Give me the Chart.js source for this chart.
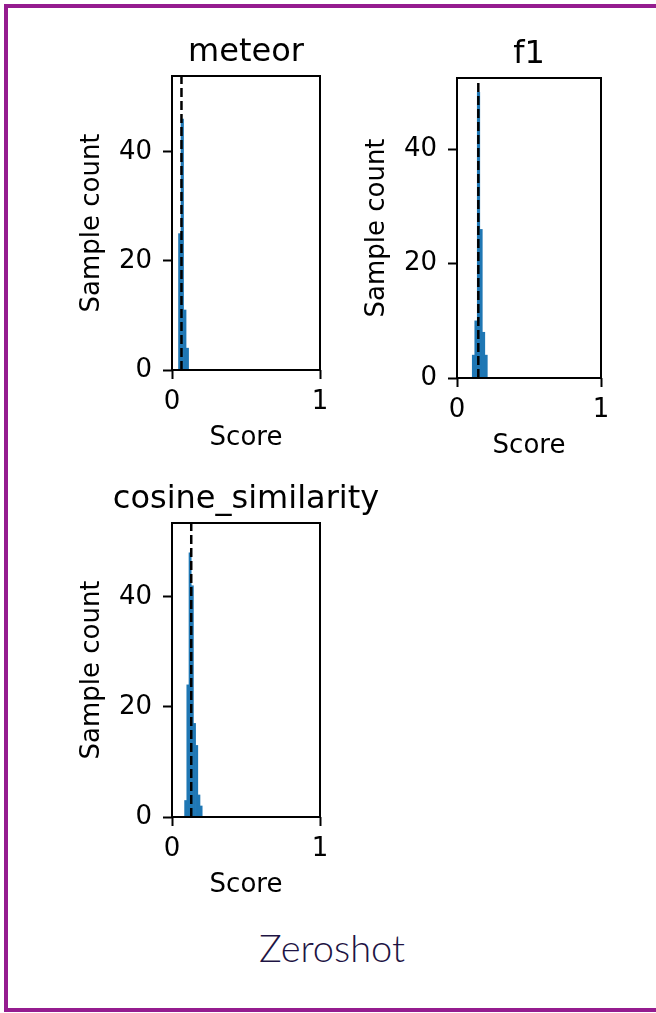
<!DOCTYPE html>
<html>
<head>
<meta charset="utf-8">
<script src="https://cdn.jsdelivr.net/npm/chart.js@4.4.0/dist/chart.umd.min.js"></script>
<style>
  html, body { margin: 0; padding: 0; background: #fff; }
  body { width: 656px; height: 1013px; position: relative; overflow: hidden; }
  #frame {
    position: absolute; left: 4px; top: 4px; width: 720px; height: 1008px;
    box-sizing: border-box; border: 4px solid #951c8f;
  }
  canvas { position: absolute; }
  #caption {
    position: absolute; left: 0; width: 664px; top: 928px;
    text-align: center; font-family: Lato, 'Open Sans', sans-serif;
    font-size: 38px; font-weight: 300; line-height: 1; color: #1e1444;
  }
</style>
</head>
<body>
<div id="frame"></div>
<canvas id="meteorChart"></canvas>
<canvas id="f1Chart"></canvas>
<canvas id="cosineChart"></canvas>
<div id="caption">Zeroshot</div>
<script>
// Histogram data (bin centres on score axis, sample counts)
const meteorBins = [0.0525, 0.0695, 0.0865, 0.1035];
const meteorCounts = [25, 46, 11, 4];
const meteorMean = 0.064;
const meteorYMax = 53.9;

const f1Bins = [0.1147, 0.1321, 0.1495, 0.1669, 0.1843, 0.2017];
const f1Counts = [4, 10, 50, 26, 8, 4];
const f1Mean = 0.148;
const f1YMax = 52.5;

const cosineBins = [0.0926, 0.1074, 0.1223, 0.1372, 0.1520, 0.1669, 0.1817, 0.1966];
const cosineCounts = [3, 24, 48, 42, 17, 13, 4, 2];
const cosineMean = 0.130;
const cosineYMax = 53.4;

// Axis ticks
const xTicks = [0, 1];
const yTicks = [0, 20, 40];

const FONT = "'DejaVu Sans', sans-serif";

// Draws the full box around the plot area (matplotlib spines)
const framePlugin = {
    id: 'frame',
    afterDatasetsDraw(chart) {
        const { ctx, chartArea: a } = chart;
        ctx.save();
        ctx.strokeStyle = '#000';
        ctx.lineWidth = 2;
        ctx.strokeRect(a.left, a.top, a.right - a.left, a.bottom - a.top);
        ctx.restore();
    }
};

// Build one subplot; box = target plot area in page pixels
function makePanel(id, title, bins, counts, mean, yMax, box) {
    const canvas = document.getElementById(id);
    const yAxisWidth = 96;
    const xAxisHeight = 84;
    const titleSpace = 43;
    const titleLine = 32 * 1.2;
    // empty right axis of the same width keeps the full-width title centred on the plot
    const left = box.l - yAxisWidth;
    const top = box.t - titleSpace;
    const width = box.r + yAxisWidth - left;
    const height = box.b + xAxisHeight - top;
    canvas.width = width;
    canvas.height = height;
    canvas.style.left = left + 'px';
    canvas.style.top = top + 'px';
    canvas.style.width = width + 'px';
    canvas.style.height = height + 'px';

    const barData = bins.map((b, i) => ({ x: b, y: counts[i] }));

    return new Chart(canvas, {
        type: 'bar',
        data: {
            datasets: [
                {
                    type: 'line',
                    data: [{ x: mean, y: 0 }, { x: mean, y: yMax }],
                    borderColor: '#000',
                    borderWidth: 2.5,
                    borderDash: [9, 4],
                    pointRadius: 0,
                    fill: false,
                    order: 0
                },
                {
                    type: 'bar',
                    data: barData,
                    backgroundColor: '#1f77b4',
                    borderWidth: 0,
                    barPercentage: 1,
                    categoryPercentage: 1,
                    order: 1
                }
            ]
        },
        options: {
            responsive: false,
            animation: false,
            devicePixelRatio: 1,
            layout: { padding: 0 },
            plugins: {
                legend: { display: false },
                tooltip: { enabled: false },
                title: {
                    display: true,
                    text: title,
                    color: '#000',
                    font: { family: FONT, size: 32, weight: 'normal' },
                    padding: { top: 0, bottom: titleSpace - titleLine }
                }
            },
            scales: {
                x: {
                    type: 'linear',
                    min: 0,
                    max: 1,
                    offset: false,
                    afterBuildTicks: (scale) => { scale.ticks = xTicks.map(v => ({ value: v })); },
                    afterFit: (scale) => { scale.height = xAxisHeight; },
                    border: { display: false },
                    grid: {
                        offset: false,
                        drawOnChartArea: false,
                        drawTicks: true,
                        tickLength: 9,
                        tickWidth: 2,
                        tickColor: '#000'
                    },
                    ticks: {
                        color: '#000',
                        padding: 8,
                        maxRotation: 0,
                        font: { family: FONT, size: 26 },
                        callback: (v) => String(v)
                    },
                    title: {
                        display: true,
                        text: 'Score',
                        color: '#000',
                        padding: 0,
                        font: { family: FONT, size: 26 }
                    }
                },
                y: {
                    min: 0,
                    max: yMax,
                    afterBuildTicks: (scale) => { scale.ticks = yTicks.map(v => ({ value: v })); },
                    afterFit: (scale) => { scale.width = yAxisWidth; },
                    border: { display: false },
                    grid: {
                        drawOnChartArea: false,
                        drawTicks: true,
                        tickLength: 9,
                        tickWidth: 2,
                        tickColor: '#000'
                    },
                    ticks: {
                        color: '#000',
                        padding: 11,
                        font: { family: FONT, size: 26 },
                        callback: (v) => String(v)
                    },
                    title: {
                        display: true,
                        text: 'Sample count',
                        color: '#000',
                        padding: { top: 1, bottom: 0 },
                        font: { family: FONT, size: 26 }
                    }
                },
                yRight: {
                    position: 'right',
                    display: true,
                    min: 0,
                    max: yMax,
                    afterFit: (scale) => { scale.width = yAxisWidth; },
                    border: { display: false },
                    grid: { display: false },
                    ticks: { display: false }
                }
            }
        },
        plugins: [framePlugin]
    });
}

makePanel('meteorChart', 'meteor', meteorBins, meteorCounts, meteorMean, meteorYMax, { l: 172, r: 320, t: 76, b: 370 });
makePanel('f1Chart', 'f1', f1Bins, f1Counts, f1Mean, f1YMax, { l: 457, r: 601, t: 78, b: 378 });
makePanel('cosineChart', 'cosine_similarity', cosineBins, cosineCounts, cosineMean, cosineYMax, { l: 172, r: 320, t: 523, b: 817 });
</script>
</body>
</html>
